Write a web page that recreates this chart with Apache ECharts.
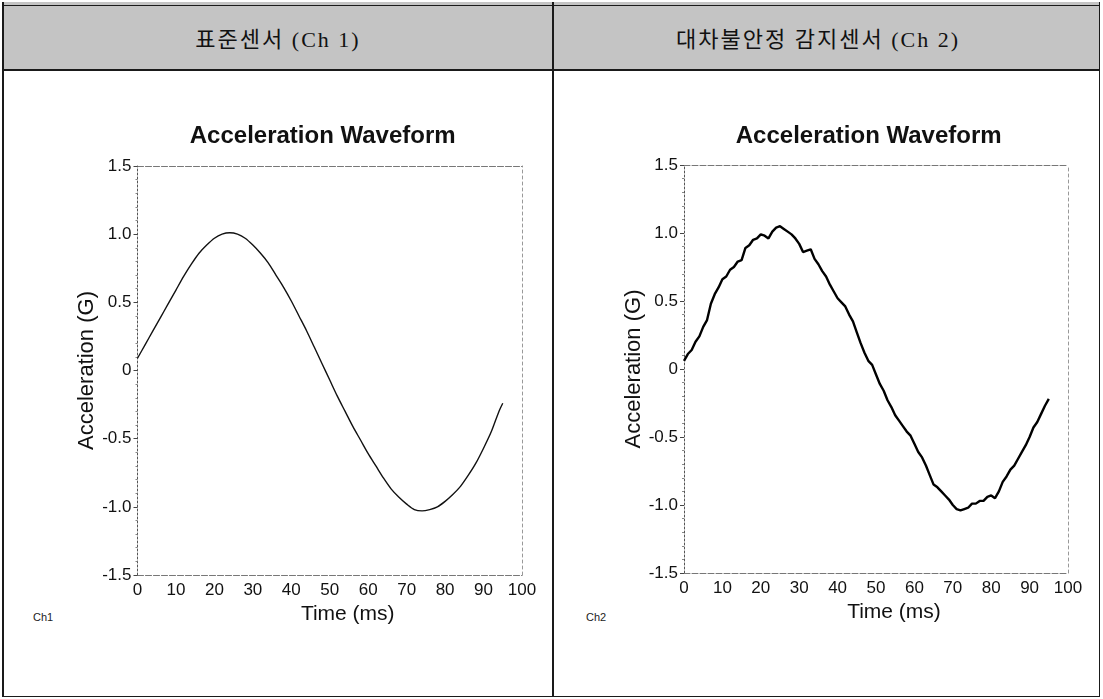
<!DOCTYPE html>
<html>
<head>
<meta charset="utf-8">
<script src="https://cdn.jsdelivr.net/npm/echarts@6/dist/echarts.min.js"></script>
<style>
  html, body { margin: 0; padding: 0; background: #fff; width: 1103px; height: 699px; overflow: hidden; }
  .abs { position: absolute; }
  #hdr { left: 3px; top: 2px; width: 1097px; height: 68px; background: #c4c4c4; }
  .line { position: absolute; background: #1a1a1a; }
  .htxt { position: absolute; top: 25px; font-family: "Liberation Serif", "Noto Sans CJK KR", serif; font-size: 22px; letter-spacing: 2px; color: #111; white-space: nowrap; transform: translateX(-50%); line-height: 30px; }
  .ch { position: absolute; top: 611px; font-family: "Liberation Sans", Arial, sans-serif; font-size: 11px; color: #222; }
  #chart { position: absolute; left: 0; top: 0; width: 1103px; height: 699px; }
</style>
</head>
<body>
<div id="hdr" class="abs"></div>
<div class="line" style="left:3px;top:5px;width:1097px;height:1px;"></div>
<div class="line" style="left:3px;top:69px;width:1097px;height:2px;"></div>
<div class="line" style="left:2px;top:2px;width:2px;height:695px;"></div>
<div class="line" style="left:1099px;top:2px;width:1px;height:695px;"></div>
<div class="line" style="left:552px;top:2px;width:2px;height:695px;"></div>
<div class="line" style="left:2px;top:696px;width:1098px;height:1px;"></div>
<div class="htxt" style="left:278px;">표준센서 (Ch 1)</div>
<div class="htxt" style="left:818px;">대차불안정 감지센서 (Ch 2)</div>
<div class="ch" style="left:33px;">Ch1</div>
<div class="ch" style="left:586px;">Ch2</div>
<div id="chart"></div>
<script>
// ---- data ----
const chartTitle = 'Acceleration Waveform';
const xAxisName = 'Time (ms)';
const yAxisName = 'Acceleration (G)';

const xTickValues = [0, 10, 20, 30, 40, 50, 60, 70, 80, 90, 100];
const xTickLabels = ['0', '10', '20', '30', '40', '50', '60', '70', '80', '90', '100'];
const yTickValues = [-1.5, -1.0, -0.5, 0, 0.5, 1.0, 1.5];
const yTickLabels = ['-1.5', '-1.0', '-0.5', '0', '0.5', '1.0', '1.5'];

// Ch 1 : standard sensor (smooth)
const timeCh1 = [0, 2, 4, 6, 8, 10, 12, 14, 16, 18, 20, 22, 24, 26, 28, 30, 32, 34, 36, 38, 40, 42, 44, 46, 48,
                 50, 52, 54, 56, 58, 60, 62, 64, 66, 68, 70, 72, 74, 76, 78, 80, 82, 84, 86, 88, 90, 92, 94, 95];
const accCh1 = [0.09, 0.19, 0.29, 0.39, 0.49, 0.59, 0.69, 0.78, 0.86, 0.92, 0.97, 1.00, 1.01, 1.00, 0.97, 0.92,
                0.86, 0.79, 0.70, 0.61, 0.51, 0.40, 0.29, 0.17, 0.05, -0.07, -0.19, -0.30, -0.41, -0.51, -0.61,
                -0.70, -0.79, -0.87, -0.93, -0.98, -1.02, -1.03, -1.02, -1.00, -0.96, -0.91, -0.85, -0.77, -0.68,
                -0.57, -0.45, -0.30, -0.24];

// Ch 2 : instability sensor (noisy)
const timeCh2 = [0, 1, 2, 3, 4, 5, 6, 7, 8, 9, 10, 11, 12, 13, 14, 15, 16, 17, 18, 19, 20, 21, 22, 23, 24, 25, 26,
                 27, 28, 29, 30, 31, 32, 33, 34, 35, 36, 37, 38, 39, 40, 41, 42, 43, 44, 45, 46, 47, 48, 49, 50, 51,
                 52, 53, 54, 55, 56, 57, 58, 59, 60, 61, 62, 63, 64, 65, 66, 67, 68, 69, 70, 71, 72, 73, 74, 75, 76,
                 77, 78, 79, 80, 81, 82, 83, 84, 85, 86, 87, 88, 89, 90, 91, 92, 93, 94, 95];
const accCh2 = [0.06, 0.11, 0.14, 0.20, 0.24, 0.31, 0.36, 0.48, 0.55, 0.60, 0.66, 0.68, 0.73, 0.75, 0.79, 0.80,
                0.89, 0.91, 0.95, 0.96, 0.99, 0.98, 0.96, 1.01, 1.04, 1.05, 1.03, 1.01, 0.99, 0.96, 0.92, 0.86,
                0.87, 0.88, 0.81, 0.77, 0.72, 0.68, 0.62, 0.57, 0.52, 0.49, 0.46, 0.40, 0.35, 0.27, 0.19, 0.12,
                0.06, 0.03, -0.04, -0.11, -0.16, -0.23, -0.28, -0.34, -0.38, -0.42, -0.46, -0.49, -0.55, -0.61,
                -0.65, -0.71, -0.78, -0.85, -0.87, -0.90, -0.93, -0.96, -1.00, -1.03, -1.04, -1.03, -1.02, -0.99,
                -0.99, -0.97, -0.97, -0.94, -0.93, -0.95, -0.90, -0.83, -0.79, -0.74, -0.71, -0.66, -0.61, -0.56,
                -0.50, -0.43, -0.39, -0.33, -0.27, -0.22];

// ---- chart ----
const FONT = '"Liberation Sans", Arial, sans-serif';
const ink = '#111';

function labelFrom(values, labels) {
  return function (v) {
    for (let i = 0; i < values.length; i++) if (Math.abs(values[i] - v) < 1e-9) return labels[i];
    return '';
  };
}

const grids = [
  { left: 137.5, top: 166, width: 384.5, height: 409 },
  { left: 684, top: 165, width: 384, height: 408 }
];
const titleCenters = [322.7, 868.7];

const option = {
  animation: false,
  backgroundColor: 'transparent',
  title: titleCenters.map(c => ({
    text: chartTitle, left: c, top: 124, textAlign: 'center', padding: 0,
    textStyle: { fontFamily: FONT, fontSize: 24, fontWeight: 'bold', color: ink }
  })),
  grid: grids,
  xAxis: [],
  yAxis: [],
  series: []
};

grids.forEach((g, k) => {
  option.xAxis.push({
    type: 'value', gridIndex: k, min: 0, max: 100, interval: 10, position: 'bottom',
    name: xAxisName, nameLocation: 'middle', nameGap: 26,
    nameTextStyle: { fontFamily: FONT, fontSize: 21, color: ink, padding: [0, 0, 0, 36] },
    axisLine: { show: true, onZero: false, lineStyle: { color: '#777', width: 1, type: [6, 2] } },
    axisTick: { show: false },
    splitLine: { show: false },
    axisLabel: { fontFamily: FONT, fontSize: 17, color: ink, margin: 7, formatter: labelFrom(xTickValues, xTickLabels) }
  });
  option.xAxis.push({
    type: 'value', gridIndex: k, min: 0, max: 100, interval: 10, position: 'top',
    axisLine: { show: true, onZero: false, lineStyle: { color: '#777', width: 1, type: [6, 2] } },
    axisTick: { show: false }, axisLabel: { show: false }, splitLine: { show: false }
  });
  option.yAxis.push({
    type: 'value', gridIndex: k, min: -1.5, max: 1.5, interval: 0.5, position: 'left',
    name: yAxisName, nameLocation: 'middle', nameGap: 33,
    nameTextStyle: { fontFamily: FONT, fontSize: 22, color: ink },
    axisLine: { show: true, onZero: false, lineStyle: { color: '#555', width: 1, type: [2, 2] } },
    axisTick: { show: true, inside: false, length: 4, lineStyle: { color: '#444' } },
    minorTick: { show: true, splitNumber: 5, length: 2, lineStyle: { color: '#888' } },
    splitLine: { show: false },
    axisLabel: { fontFamily: FONT, fontSize: 17, color: ink, margin: 6, formatter: labelFrom(yTickValues, yTickLabels) }
  });
  option.yAxis.push({
    type: 'value', gridIndex: k, min: -1.5, max: 1.5, interval: 0.5, position: 'right',
    axisLine: { show: true, onZero: false, lineStyle: { color: '#999', width: 1, type: [3, 3] } },
    axisTick: { show: false }, axisLabel: { show: false }, splitLine: { show: false }
  });
});

option.series.push({
  type: 'line', xAxisIndex: 0, yAxisIndex: 0, showSymbol: false, smooth: 0.3,
  lineStyle: { color: ink, width: 1.4 },
  data: timeCh1.map((t, i) => [t, accCh1[i]])
});
option.series.push({
  type: 'line', xAxisIndex: 2, yAxisIndex: 2, showSymbol: false, smooth: false,
  lineStyle: { color: '#000', width: 2.4 },
  data: timeCh2.map((t, i) => [t, accCh2[i]])
});

const chart = echarts.init(document.getElementById('chart'), null, { renderer: 'canvas', width: 1103, height: 699 });
chart.setOption(option);
</script>
</body>
</html>
